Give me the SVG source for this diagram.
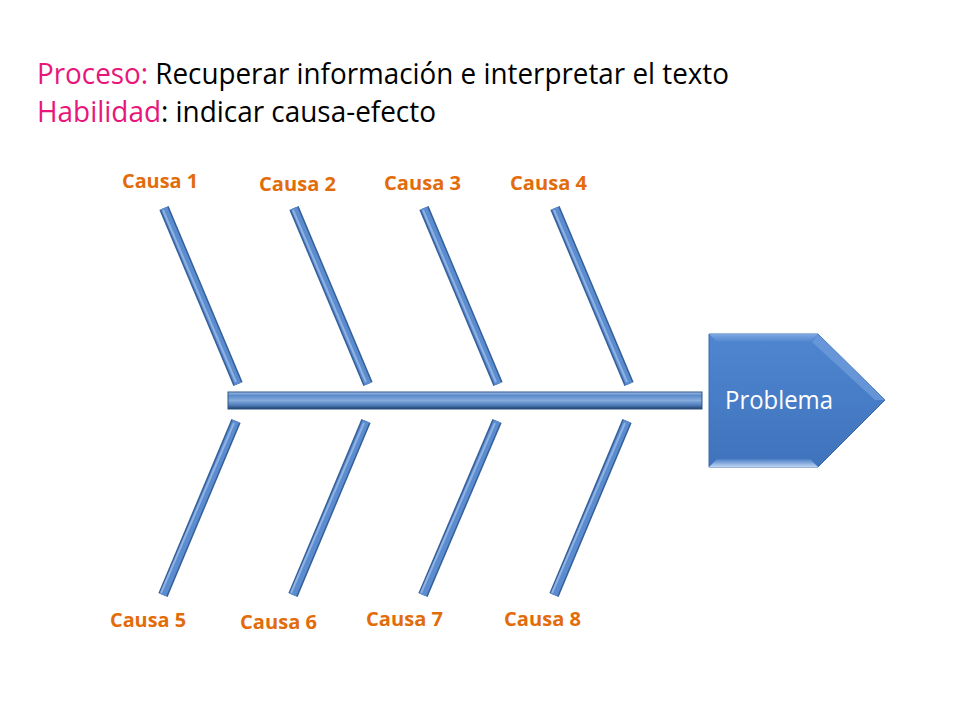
<svg xmlns="http://www.w3.org/2000/svg" width="960" height="720" viewBox="0 0 960 720">
  <defs>
    <linearGradient id="spineGrad" x1="0" y1="0" x2="0" y2="1">
      <stop offset="0" stop-color="#A5C2E8"/>
      <stop offset="0.2" stop-color="#5A8AC9"/>
      <stop offset="0.5" stop-color="#86ABDD"/>
      <stop offset="0.8" stop-color="#4A78B6"/>
      <stop offset="1" stop-color="#1F3C64"/>
    </linearGradient>
    <linearGradient id="probGrad" x1="0" y1="0" x2="0" y2="1">
      <stop offset="0" stop-color="#4F86D0"/>
      <stop offset="1" stop-color="#3F73BC"/>
    </linearGradient>
    <linearGradient id="bevelTop" x1="0" y1="0" x2="0" y2="1">
      <stop offset="0" stop-color="#7FA8E0"/>
      <stop offset="1" stop-color="#4F86D0"/>
    </linearGradient>
    <linearGradient id="bevelBot" x1="0" y1="0" x2="0" y2="1">
      <stop offset="0" stop-color="#4A7EC6"/>
      <stop offset="1" stop-color="#BFD5F2"/>
    </linearGradient>
  </defs>
  <style>
    .title { font-family: "Open Sans", "Liberation Sans", sans-serif; font-size: 30px; fill: #000000; }
    .pink { fill: #E8167B; }
    .lbl { font-family: "Open Sans", "Liberation Sans", sans-serif; font-size: 20px; font-weight: bold; fill: #E36C0A; }
    .boneOut { stroke: #35609A; stroke-width: 10; stroke-linecap: butt; fill: none; }
    .boneIn { stroke: #5B8CCF; stroke-width: 7; stroke-linecap: butt; fill: none; }
    .boneHi { stroke: #8FB2E2; stroke-width: 2; fill: none; }
  </style>

  <g id="title">
    <text class="title" x="37" y="84" textLength="692" lengthAdjust="spacingAndGlyphs"><tspan class="pink">Proceso:</tspan> Recuperar información e interpretar el texto</text>
    <text class="title" x="37" y="122" textLength="399" lengthAdjust="spacingAndGlyphs"><tspan class="pink">Habilidad</tspan>: indicar causa-efecto</text>
  </g>

  <g id="connectors">
    <rect id="spine" x="228" y="392" width="474" height="17" fill="url(#spineGrad)" stroke="#2F5585" stroke-width="1"/>
    <g id="bones-top">
      <line class="boneOut" x1="164" y1="208" x2="238" y2="384"/>
      <line class="boneIn" x1="164" y1="208" x2="238" y2="384"/>
      <line class="boneHi" x1="163" y1="210" x2="236" y2="382"/>
      <line class="boneOut" x1="294" y1="208" x2="368" y2="384"/>
      <line class="boneIn" x1="294" y1="208" x2="368" y2="384"/>
      <line class="boneHi" x1="293" y1="210" x2="366" y2="382"/>
      <line class="boneOut" x1="424" y1="208" x2="498" y2="384"/>
      <line class="boneIn" x1="424" y1="208" x2="498" y2="384"/>
      <line class="boneHi" x1="423" y1="210" x2="496" y2="382"/>
      <line class="boneOut" x1="555" y1="208" x2="629" y2="384"/>
      <line class="boneIn" x1="555" y1="208" x2="629" y2="384"/>
      <line class="boneHi" x1="554" y1="210" x2="627" y2="382"/>
    </g>
    <g id="bones-bottom">
      <line class="boneOut" x1="236" y1="421" x2="163" y2="595"/>
      <line class="boneIn" x1="236" y1="421" x2="163" y2="595"/>
      <line class="boneHi" x1="234" y1="423" x2="161" y2="593"/>
      <line class="boneOut" x1="366" y1="421" x2="293" y2="595"/>
      <line class="boneIn" x1="366" y1="421" x2="293" y2="595"/>
      <line class="boneHi" x1="364" y1="423" x2="291" y2="593"/>
      <line class="boneOut" x1="497" y1="421" x2="423" y2="595"/>
      <line class="boneIn" x1="497" y1="421" x2="423" y2="595"/>
      <line class="boneHi" x1="495" y1="423" x2="421" y2="593"/>
      <line class="boneOut" x1="627" y1="421" x2="554" y2="595"/>
      <line class="boneIn" x1="627" y1="421" x2="554" y2="595"/>
      <line class="boneHi" x1="625" y1="423" x2="552" y2="593"/>
    </g>
  </g>

  <g id="problema">
    <polygon points="709,334 818,334 885,400 818,467 709,467" fill="url(#probGrad)" stroke="#3A6AAE" stroke-width="1"/>
    <polygon points="709,334 818,334 810,342 717,342" fill="url(#bevelTop)"/>
    <polygon points="717,459 810,459 818,467 709,467" fill="url(#bevelBot)"/>
    <polygon points="818,334 885,400 875,400 812,342" fill="#6D9BDA" opacity="0.8"/>
    <text x="725" y="409" font-family="Open Sans, Liberation Sans, sans-serif" font-size="25" fill="#FFFFFF" textLength="108" lengthAdjust="spacingAndGlyphs">Problema</text>
  </g>

  <g id="labels">
    <text class="lbl" x="122" y="188" textLength="76" lengthAdjust="spacingAndGlyphs">Causa 1</text>
    <text class="lbl" x="259" y="191" textLength="77" lengthAdjust="spacingAndGlyphs">Causa 2</text>
    <text class="lbl" x="384" y="190" textLength="77" lengthAdjust="spacingAndGlyphs">Causa 3</text>
    <text class="lbl" x="510" y="190" textLength="77" lengthAdjust="spacingAndGlyphs">Causa 4</text>
    <text class="lbl" x="110" y="627" textLength="76" lengthAdjust="spacingAndGlyphs">Causa 5</text>
    <text class="lbl" x="240" y="629" textLength="77" lengthAdjust="spacingAndGlyphs">Causa 6</text>
    <text class="lbl" x="366" y="626" textLength="77" lengthAdjust="spacingAndGlyphs">Causa 7</text>
    <text class="lbl" x="504" y="626" textLength="77" lengthAdjust="spacingAndGlyphs">Causa 8</text>
  </g>
</svg>
